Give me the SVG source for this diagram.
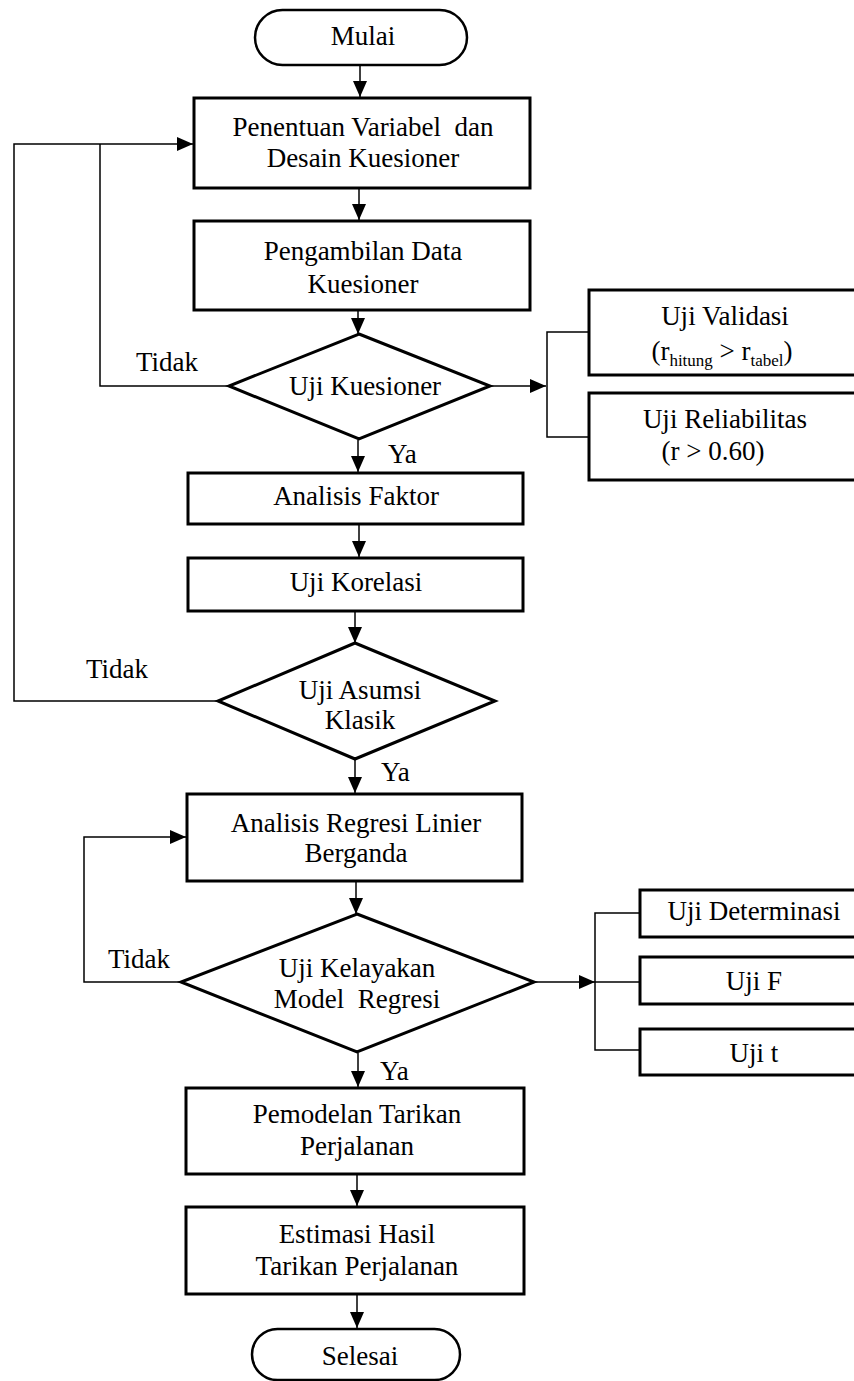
<svg xmlns="http://www.w3.org/2000/svg" width="854" height="1381" viewBox="0 0 854 1381">
  <style>
    .box { fill: #ffffff; stroke: #000000; stroke-width: 3; }
    .term { fill: #ffffff; stroke: #000000; stroke-width: 2.5; }
    .line { fill: none; stroke: #000000; stroke-width: 1.5; }
    .arrow { fill: none; stroke: #000000; stroke-width: 1.5; marker-end: url(#arr); }
    text { font-family: "Liberation Serif", "Times New Roman", serif; font-size: 27px; fill: #000000; white-space: pre; }
    .c { text-anchor: middle; }
    .sub { font-size: 17px; }
  </style>
  <defs>
    <marker id="arr" viewBox="0 0 16 14" refX="16" refY="7" markerWidth="16" markerHeight="14" orient="auto" markerUnits="userSpaceOnUse">
      <path d="M0,0 L16,7 L0,14 z" fill="#000000"/>
    </marker>
  </defs>

  <rect width="854" height="1381" fill="#ffffff"/>

  <!-- connectors -->
  <g id="connectors">
    <line class="arrow" x1="360" y1="66" x2="360" y2="97"/>
    <line class="arrow" x1="359" y1="189" x2="359" y2="220"/>
    <line class="arrow" x1="358" y1="311" x2="358" y2="334"/>
    <line class="arrow" x1="358" y1="440" x2="358" y2="472"/>
    <line class="arrow" x1="359" y1="525" x2="359" y2="557"/>
    <line class="arrow" x1="355" y1="612" x2="355" y2="643"/>
    <line class="arrow" x1="355" y1="760" x2="355" y2="793"/>
    <line class="arrow" x1="356" y1="882" x2="356" y2="914"/>
    <line class="arrow" x1="358" y1="1053" x2="358" y2="1087"/>
    <line class="arrow" x1="357" y1="1175" x2="357" y2="1206"/>
    <line class="arrow" x1="357" y1="1295" x2="357" y2="1328"/>

    <!-- "Tidak" return paths to the questionnaire design step -->
    <polyline class="line" points="229,386 100,386 100,144"/>
    <polyline class="arrow" points="218,701 14,701 14,144 193,144"/>
    <!-- "Tidak" return path to the regression step -->
    <polyline class="arrow" points="181,982 84,982 84,837 186,837"/>

    <!-- questionnaire tests branch -->
    <line class="arrow" x1="490" y1="386" x2="546" y2="386"/>
    <polyline class="line" points="589,332 547,332 547,437 589,437"/>

    <!-- regression model tests branch -->
    <line class="arrow" x1="534" y1="982" x2="595" y2="982"/>
    <polyline class="line" points="640,913 595,913 595,1050 640,1050"/>
    <line class="line" x1="595" y1="982" x2="640" y2="982"/>
  </g>

  <g id="mulai">
    <rect class="term" x="255" y="10" width="212" height="55" rx="27.5" ry="27.5"/>
    <text class="c" x="363" y="45">Mulai</text>
  </g>

  <g id="penentuan-variabel">
    <rect class="box" x="194" y="98" width="336" height="90"/>
    <text class="c" x="363" y="136">Penentuan Variabel  dan</text>
    <text class="c" x="363" y="167">Desain Kuesioner</text>
  </g>

  <g id="pengambilan-data">
    <rect class="box" x="194" y="221" width="336" height="89"/>
    <text class="c" x="363" y="260">Pengambilan Data</text>
    <text class="c" x="363" y="293">Kuesioner</text>
  </g>

  <g id="uji-kuesioner">
    <polygon class="box" points="359,334 490,386 359,439 229,386"/>
    <text class="c" x="365" y="395">Uji Kuesioner</text>
    <text x="136" y="371">Tidak</text>
    <text x="388" y="463">Ya</text>
  </g>

  <g id="uji-validasi">
    <rect class="box" x="589" y="290" width="280" height="85"/>
    <text class="c" x="725" y="325">Uji Validasi</text>
    <text class="c" x="722" y="360"><tspan>(r</tspan><tspan class="sub" dy="6">hitung</tspan><tspan dy="-6"> &gt; r</tspan><tspan class="sub" dy="6">tabel</tspan><tspan dy="-6">)</tspan></text>
  </g>

  <g id="uji-reliabilitas">
    <rect class="box" x="589" y="393" width="280" height="87"/>
    <text class="c" x="725" y="428">Uji Reliabilitas</text>
    <text class="c" x="713" y="460">(r &gt; 0.60)</text>
  </g>

  <g id="analisis-faktor">
    <rect class="box" x="188" y="473" width="335" height="51"/>
    <text class="c" x="356" y="505">Analisis Faktor</text>
  </g>

  <g id="uji-korelasi">
    <rect class="box" x="188" y="558" width="335" height="53"/>
    <text class="c" x="356" y="591">Uji Korelasi</text>
  </g>

  <g id="uji-asumsi-klasik">
    <polygon class="box" points="355,643 495,701 355,759 218,701"/>
    <text class="c" x="360" y="699">Uji Asumsi</text>
    <text class="c" x="360" y="729">Klasik</text>
    <text x="86" y="678">Tidak</text>
    <text x="381" y="781">Ya</text>
  </g>

  <g id="analisis-regresi">
    <rect class="box" x="187" y="794" width="335" height="87"/>
    <text class="c" x="356" y="832">Analisis Regresi Linier</text>
    <text class="c" x="356" y="862">Berganda</text>
  </g>

  <g id="uji-kelayakan-model">
    <polygon class="box" points="357,914 534,982 357,1052 181,982"/>
    <text class="c" x="357" y="977">Uji Kelayakan</text>
    <text class="c" x="357" y="1008">Model  Regresi</text>
    <text x="108" y="968">Tidak</text>
    <text x="380" y="1080">Ya</text>
  </g>

  <g id="uji-determinasi">
    <rect class="box" x="640" y="890" width="228" height="47"/>
    <text class="c" x="754" y="920">Uji Determinasi</text>
  </g>

  <g id="uji-f">
    <rect class="box" x="640" y="957" width="228" height="47"/>
    <text class="c" x="754" y="990">Uji F</text>
  </g>

  <g id="uji-t">
    <rect class="box" x="640" y="1029" width="228" height="46"/>
    <text class="c" x="754" y="1062">Uji t</text>
  </g>

  <g id="pemodelan-tarikan">
    <rect class="box" x="186" y="1088" width="338" height="86"/>
    <text class="c" x="357" y="1123">Pemodelan Tarikan</text>
    <text class="c" x="357" y="1155">Perjalanan</text>
  </g>

  <g id="estimasi-hasil">
    <rect class="box" x="186" y="1207" width="338" height="87"/>
    <text class="c" x="357" y="1243">Estimasi Hasil</text>
    <text class="c" x="357" y="1275">Tarikan Perjalanan</text>
  </g>

  <g id="selesai">
    <rect class="term" x="252" y="1329" width="208" height="51" rx="25.5" ry="25.5"/>
    <text class="c" x="360" y="1365">Selesai</text>
  </g>
</svg>
